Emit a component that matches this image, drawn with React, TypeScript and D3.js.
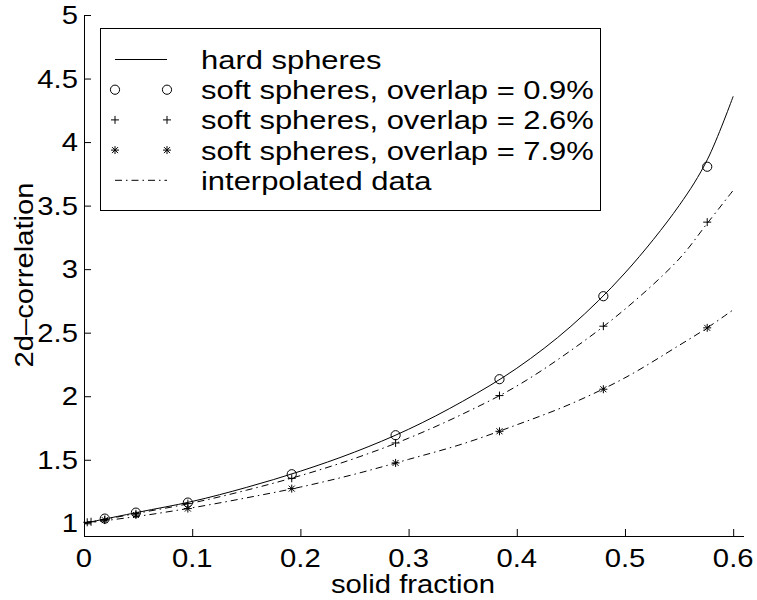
import React from 'react';
import * as d3 from 'd3';

// measured points (solid fraction)
const sampleX = [0.0192, 0.048, 0.096, 0.192, 0.288, 0.384, 0.48, 0.576];
const overlap09 = [1.037, 1.084, 1.163, 1.386, 1.693, 2.134, 2.787, 3.806];
const plusX = [0.003, 0.0065, 0.0192, 0.048, 0.096, 0.192, 0.288, 0.384, 0.48, 0.576];
const overlap26 = [1.008, 1.012, 1.03, 1.075, 1.155, 1.354, 1.632, 2.005, 2.551, 3.37];
const overlap79 = [1.025, 1.065, 1.116, 1.273, 1.475, 1.724, 2.055, 2.538];

// curves
const curveX = [0, 0.05, 0.1, 0.15, 0.2, 0.25, 0.3, 0.35, 0.4, 0.45, 0.5, 0.55, 0.576, 0.6];
const hardY = [1.0, 1.087, 1.172, 1.282, 1.41, 1.56, 1.74, 1.96, 2.22, 2.55, 2.97, 3.5, 3.86, 4.36];
const interp26 = [1.0, 1.08, 1.16, 1.26, 1.375, 1.51, 1.67, 1.86, 2.08, 2.36, 2.685, 3.08, 3.36, 3.62];
const interp79 = [1.0, 1.055, 1.122, 1.2, 1.285, 1.386, 1.503, 1.625, 1.775, 1.94, 2.145, 2.4, 2.538, 2.68];

const xTicks = [0, 0.1, 0.2, 0.3, 0.4, 0.5, 0.6];
const yTicks = [1, 1.5, 2, 2.5, 3, 3.5, 4, 4.5, 5];
const legendLabels = [
  'hard spheres',
  'soft spheres, overlap = 0.9%',
  'soft spheres, overlap = 2.6%',
  'soft spheres, overlap = 7.9%',
  'interpolated data',
];

const W = 757, H = 600;
const left = 84, right = 744, top = 15, bottom = 536;
const font = '"Liberation Sans", Arial, Helvetica, sans-serif';
const dashDot = '7,4,1.5,4';

function Circle({ x, y }: { x: number; y: number }) {
  return <circle cx={x} cy={y} r={4.6} fill="none" stroke="#000" strokeWidth={1} />;
}
function Plus({ x, y }: { x: number; y: number }) {
  const s = 4;
  return <path d={`M${x - s},${y}H${x + s}M${x},${y - s}V${y + s}`} stroke="#000" strokeWidth={1} />;
}
function Star({ x, y }: { x: number; y: number }) {
  const s = 4, d = 3;
  return (
    <path
      d={`M${x - s},${y}H${x + s}M${x},${y - s}V${y + s}M${x - d},${y - d}L${x + d},${y + d}M${x - d},${y + d}L${x + d},${y - d}`}
      stroke="#000"
      strokeWidth={1}
    />
  );
}

// glyphs in the picture are a bit wide, so text gets a horizontal stretch
function Label({ x, y, anchor, size, text, rotate, sx = 1.17 }: any) {
  const t = rotate ? `translate(${x},${y}) rotate(-90) scale(${sx},1)` : `translate(${x},${y}) scale(${sx},1)`;
  return (
    <text transform={t} textAnchor={anchor} fontFamily={font} fontSize={size} fill="#000">
      {text}
    </text>
  );
}

export default function App() {
  const x = d3.scaleLinear().domain([0, 0.61]).range([left, right]);
  const y = d3.scaleLinear().domain([0.9, 5]).range([bottom, top]);

  const line = d3
    .line<number>()
    .x((_, i) => x(curveX[i]))
    .y((d) => y(d))
    .curve(d3.curveCatmullRom.alpha(0.5));

  // legend
  const lx0 = 100.5, ly0 = 28.5, lw = 500, lh = 182;
  const rowY = (i: number) => 59.5 + i * 30.2;
  const sampleA = 115, sampleB = 167, textX = 201;

  return (
    <svg width={W} height={H} style={{ position: 'absolute', left: 0, top: 0, background: '#fff' }}>
      <rect width={W} height={H} fill="#fff" />

      {/* axes */}
      <line x1={left} x2={right} y1={bottom + 0.5} y2={bottom + 0.5} stroke="#000" />
      <line x1={left + 0.5} x2={left + 0.5} y1={top} y2={bottom} stroke="#000" />
      {xTicks.map((t) => (
        <g key={'x' + t}>
          <line x1={x(t) + 0.5} x2={x(t) + 0.5} y1={bottom} y2={bottom - 7} stroke="#000" />
          <Label x={x(t)} y={567} anchor="middle" size={25} text={String(t)} />
        </g>
      ))}
      {yTicks.map((t) => (
        <g key={'y' + t}>
          <line x1={left} x2={left + 7} y1={y(t) + 0.5} y2={y(t) + 0.5} stroke="#000" />
          <Label x={78} y={y(t) + 9} anchor="end" size={25} text={String(t)} />
        </g>
      ))}
      <Label x={413} y={593} anchor="middle" size={25} text="solid fraction" />
      <Label x={33} y={275} anchor="middle" size={25} text="2d–correlation" rotate />

      {/* curves */}
      <path d={line(hardY) || ''} fill="none" stroke="#000" strokeWidth={1} />
      <path d={line(interp26) || ''} fill="none" stroke="#000" strokeWidth={1} strokeDasharray={dashDot} />
      <path d={line(interp79) || ''} fill="none" stroke="#000" strokeWidth={1} strokeDasharray={dashDot} />

      {/* markers */}
      {overlap09.map((v, i) => <Circle key={'c' + i} x={x(sampleX[i])} y={y(v)} />)}
      {overlap26.map((v, i) => <Plus key={'p' + i} x={x(plusX[i])} y={y(v)} />)}
      {overlap79.map((v, i) => <Star key={'s' + i} x={x(sampleX[i])} y={y(v)} />)}

      {/* legend */}
      <rect x={lx0} y={ly0} width={lw} height={lh} fill="#fff" stroke="#000" strokeWidth={1} />
      <line x1={sampleA} x2={sampleB} y1={rowY(0)} y2={rowY(0)} stroke="#000" />
      <Circle x={sampleA} y={rowY(1)} />
      <Circle x={sampleB} y={rowY(1)} />
      <Plus x={sampleA} y={rowY(2)} />
      <Plus x={sampleB} y={rowY(2)} />
      <Star x={sampleA} y={rowY(3)} />
      <Star x={sampleB} y={rowY(3)} />
      <line x1={sampleA} x2={sampleB} y1={rowY(4)} y2={rowY(4)} stroke="#000" strokeDasharray={dashDot} />
      {legendLabels.map((t, i) => (
        <Label key={t} x={textX} y={rowY(i) + 9.5} anchor="start" size={26} sx={1.19} text={t} />
      ))}
    </svg>
  );
}
